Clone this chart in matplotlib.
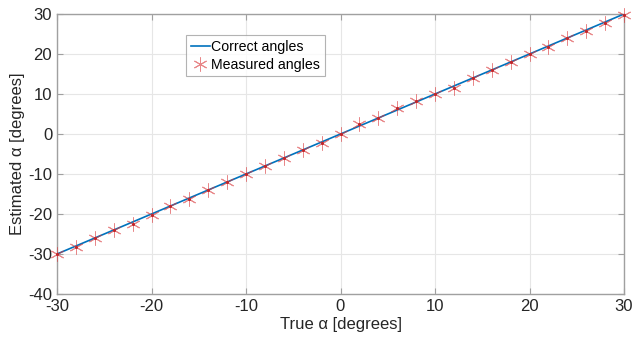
import matplotlib
matplotlib.use("Agg")
import matplotlib.pyplot as plt
import numpy as np

# --- dados ---
true_angles = [-30, -28, -26, -24, -22, -20, -18, -16, -14, -12, -10, -8, -6, -4, -2,
               0, 2, 4, 6, 8, 10, 12, 14, 16, 18, 20, 22, 24, 26, 28, 30]
measured_angles = [-30.0, -28.2, -26.1, -24.0, -22.4, -20.2, -18.1, -16.2, -14.1, -12.1,
                   -9.9, -7.9, -5.9, -4.0, -2.2, 0.0, 2.4, 4.1, 6.5, 8.3, 10.0, 11.6,
                   13.9, 16.0, 17.9, 19.9, 21.8, 23.9, 25.8, 27.7, 29.8]
ref_line = [-30, 30]

plt.rcParams['font.family'] = ['Liberation Sans', 'DejaVu Sans']
plt.rcParams['axes.unicode_minus'] = False

fig = plt.figure(figsize=(6.43, 3.42), dpi=100)
ax = fig.add_axes([57 / 643, 1 - 294 / 342, 567 / 643, 280 / 342])

ax.plot(ref_line, ref_line, color='#0072BD', lw=1.2, label='Correct angles', zorder=3)
ax.plot(true_angles, measured_angles, linestyle='none', marker=(6, 2, 0), markersize=10,
        markeredgecolor='#D9383A', markeredgewidth=0.7, alpha=0.6,
        label='Measured angles', zorder=4, clip_on=False)
# ponto central mais escuro dos marcadores
ax.plot(true_angles, measured_angles, linestyle='none', marker='.', markersize=2.5,
        color='#C0262B', zorder=5, clip_on=False)

ax.set_xlim(-30, 30)
ax.set_ylim(-40, 30)
ax.set_xticks(np.arange(-30, 31, 10))
ax.set_yticks(np.arange(-40, 31, 10))
ax.grid(True, color='#E6E6E6', lw=0.8)
ax.set_axisbelow(True)
ax.tick_params(direction='in', length=4, colors='#A0A0A0', labelcolor='#262626',
               labelsize=12, top=True, right=True)
for s in ax.spines.values():
    s.set_color('#A0A0A0')
    s.set_linewidth(1.0)

ax.set_xlabel('True α [degrees]', fontsize=12, color='#262626', labelpad=2)
ax.set_ylabel('Estimated α [degrees]', fontsize=12, color='#262626', labelpad=2)

leg = ax.legend(loc='upper left', bbox_to_anchor=(0.228, 0.925), fontsize=10.2,
                frameon=True, fancybox=False, borderpad=0.35, labelspacing=0.25,
                handlelength=1.3, handletextpad=0.1, borderaxespad=0)
leg.get_frame().set_edgecolor('#A0A0A0')
leg.get_frame().set_linewidth(0.8)

fig.savefig('out.png', dpi=100)
